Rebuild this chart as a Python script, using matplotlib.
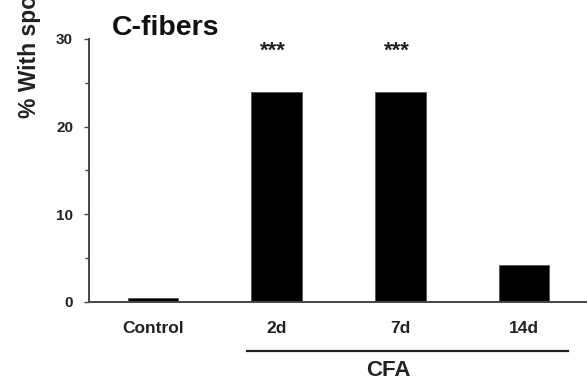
import numpy as np
import matplotlib.pyplot as plt
from matplotlib import transforms

plt.rcParams["font.family"] = ["Liberation Sans", "DejaVu Sans"]
plt.rcParams["font.weight"] = "bold"

# Data
groups = ["Control", "2d", "7d", "14d"]
values = [0.4, 24.0, 24.0, 4.2]
signif = ["", "***", "***", ""]

x = np.arange(len(groups))

fig = plt.figure(figsize=(5.87, 3.83), dpi=100)
ax = fig.add_axes([0.1516, 0.2115, 0.8484, 0.6867])

ax.bar(x, values, width=0.41, color="black", edgecolor="#555555", linewidth=0.6)

ax.set_xlim(-0.517, 3.51)
ax.set_ylim(0, 30)
ax.set_yticks([0, 10, 20, 30])
ax.set_yticks([5, 15, 25], minor=True)
ax.set_xticks(x)
ax.set_xticklabels(groups, fontsize=12.5, fontweight="bold", color="#222222")

for s in ["top", "right"]:
    ax.spines[s].set_visible(False)
for s in ["left", "bottom"]:
    ax.spines[s].set_color("#444444")
    ax.spines[s].set_linewidth(1.4)

ax.tick_params(axis="y", which="major", length=3.5, width=1, pad=8,
               labelsize=11, colors="#444444", labelcolor="#222222")
ax.tick_params(axis="y", which="minor", length=3, width=1, colors="#444444")
ax.tick_params(axis="x", length=0, pad=14)

# significance stars
for xi, v, s in zip(x, values, signif):
    if s:
        ax.text(xi - 0.03, 28.6, s, ha="center", va="center", fontsize=16,
                fontweight="bold", color="#222222")

# title
ax.text(0.045, 1.04, "C-fibers", transform=ax.transAxes, fontsize=20.5,
        fontweight="bold", ha="left", va="center", color="#111111")

# y label (clipped at top as in the original)
fig.text(30 / 587, 1 - 118 / 383, "% With spontaneous activity", rotation=90,
         ha="center", va="bottom", fontsize=16.5, fontweight="bold", color="#222222")

# CFA bracket
trans = transforms.blended_transform_factory(ax.transData, ax.transAxes)
ax.plot([0.76, 3.355], [-0.186, -0.186], color="#222222", lw=1.6,
        transform=trans, clip_on=False)
ax.text(1.9, -0.259, "CFA", transform=trans, ha="center", va="center",
        fontsize=16, fontweight="bold", color="#222222")

fig.savefig("out.png", dpi=100)
